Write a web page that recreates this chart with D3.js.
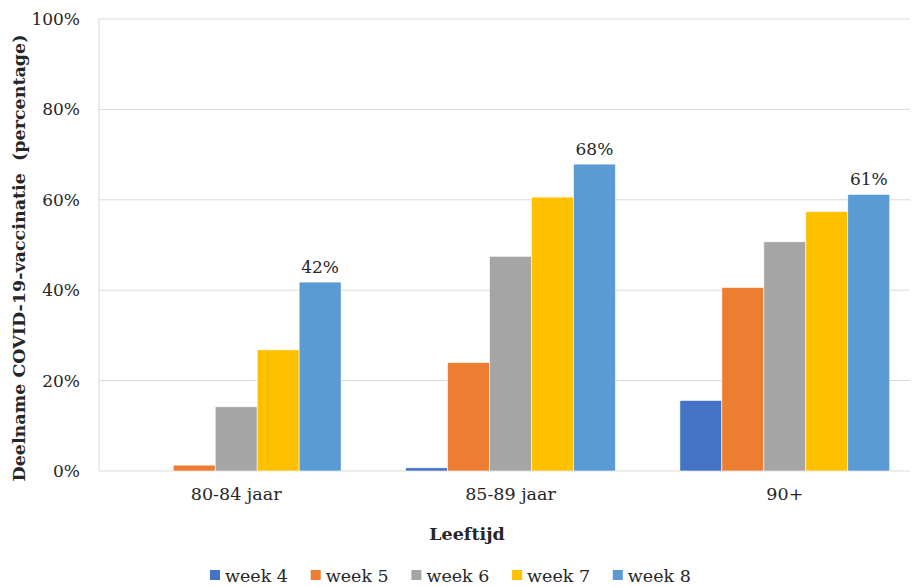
<!DOCTYPE html>
<html>
<head>
<meta charset="utf-8">
<script src="https://cdn.jsdelivr.net/npm/d3@7"></script>
<style>
  body { margin: 0; background: #fff; }
  text { font-family: Georgia, "DejaVu Serif", serif; fill: #262626; }
</style>
</head>
<body>
<svg id="chart" width="912" height="587"></svg>
<script>
// data
var categories = ["80-84 jaar", "85-89 jaar", "90+"];
var weeks = ["week 4", "week 5", "week 6", "week 7", "week 8"];
var colors = ["#4472C4", "#ED7D31", "#A5A5A5", "#FFC000", "#5B9BD5"];
var week4 = [0, 0.7, 15.6];
var week5 = [1.3, 24.0, 40.6];
var week6 = [14.2, 47.5, 50.7];
var week7 = [26.8, 60.6, 57.4];
var week8 = [41.8, 67.9, 61.2];
var week8Labels = ["42%", "68%", "61%"];
var yTicks = [0, 20, 40, 60, 80, 100];

var series = [week4, week5, week6, week7, week8];

var svg = d3.select("#chart");
var pLeft = 99, pRight = 922, pTop = 19, pBottom = 471;

var x0 = d3.scaleBand()
	.domain(categories)
	.range([pLeft, pRight])
	.paddingInner(0.235)
	.paddingOuter(0.1175);

var x1 = d3.scaleBand()
	.domain(weeks)
	.range([0, x0.bandwidth()]);

var y = d3.scaleLinear()
	.domain([0, 100])
	.range([pBottom, pTop]);

// gridlines
svg.append("g")
	.selectAll("line")
	.data(yTicks)
	.enter()
	.append("line")
	.attr("x1", pLeft)
	.attr("x2", 910)
	.attr("y1", function(d) { return y(d); })
	.attr("y2", function(d) { return y(d); })
	.style("stroke", "#d9d9d9")
	.attr("stroke-width", 1);

// left border of plot
svg.append("line")
	.attr("x1", pLeft).attr("x2", pLeft)
	.attr("y1", pTop).attr("y2", pBottom)
	.style("stroke", "#d9d9d9");

// y axis labels
var yAxis = d3.axisLeft(y)
	.tickValues(yTicks)
	.tickSize(0)
	.tickPadding(19)
	.tickFormat(function(d) { return d + "%"; });

var ya = svg.append("g")
	.attr("transform", "translate(" + pLeft + ",0)")
	.call(yAxis);
ya.select(".domain").remove();
ya.selectAll("text")
	.style("font-family", "Georgia, 'DejaVu Serif', serif")
	.style("font-size", "17px")
	.style("fill", "#262626");

// x axis labels
var xAxis = d3.axisBottom(x0).tickSize(0).tickPadding(17);
var xa = svg.append("g")
	.attr("transform", "translate(0," + pBottom + ")")
	.call(xAxis);
xa.select(".domain").remove();
xa.selectAll("text")
	.style("font-family", "Georgia, 'DejaVu Serif', serif")
	.style("font-size", "17.5px")
	.style("fill", "#262626");

// bars
var groups = svg.append("g")
	.selectAll("g")
	.data(series)
	.enter()
	.append("g")
	.attr("fill", function(d, i) { return colors[i]; });

groups.selectAll("rect")
	.data(function(d, i) {
		return d.map(function(v, j) { return { week: weeks[i], cat: categories[j], v: v }; });
	})
	.enter()
	.append("rect")
	.attr("x", function(d) { return x0(d.cat) + x1(d.week); })
	.attr("width", x1.bandwidth())
	.attr("y", function(d) { return y(d.v); })
	.attr("height", function(d) { return y(0) - y(d.v); })
	.style("stroke", "#fff")
	.style("stroke-width", 0.6);

// labels on week 8
svg.append("g")
	.selectAll("text")
	.data(week8)
	.enter()
	.append("text")
	.attr("x", function(d, j) { return x0(categories[j]) + x1("week 8") + x1.bandwidth() / 2; })
	.attr("y", function(d) { return y(d) - 9; })
	.attr("text-anchor", "middle")
	.style("font-size", "17px")
	.text(function(d, j) { return week8Labels[j]; });

// axis titles
svg.append("text")
	.attr("transform", "translate(25,258) rotate(-90)")
	.attr("text-anchor", "middle")
	.style("font-size", "17.5px")
	.style("font-weight", "bold")
	.style("white-space", "pre")
	.text("Deelname COVID-19-vaccinatie  (percentage)");

svg.append("text")
	.attr("x", 467)
	.attr("y", 540)
	.attr("text-anchor", "middle")
	.style("font-size", "17.5px")
	.style("font-weight", "bold")
	.text("Leeftijd");

// legend
var legend = svg.append("g")
	.selectAll("g")
	.data(weeks)
	.enter()
	.append("g")
	.attr("transform", function(d, i) { return "translate(" + (210 + i * 100.7) + ",570)"; });

legend.append("rect")
	.attr("width", 10)
	.attr("height", 10)
	.attr("fill", function(d, i) { return colors[i]; });

legend.append("text")
	.attr("x", 15)
	.attr("y", 12)
	.style("font-size", "17.5px")
	.text(function(d) { return d; });
</script>
</body>
</html>
